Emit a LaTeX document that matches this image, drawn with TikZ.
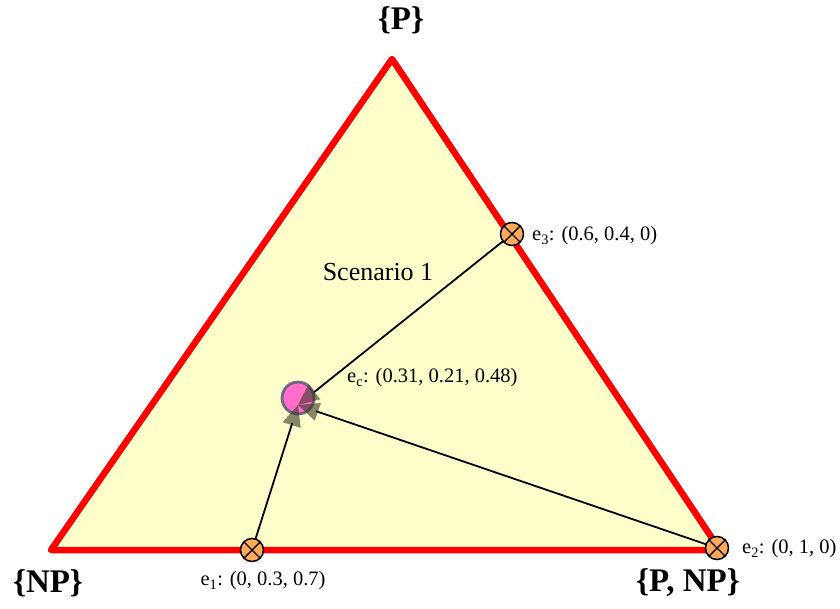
\documentclass[tikz,border=0pt]{standalone}
\usepackage{fontspec}
\setmainfont{Liberation Serif}
\usetikzlibrary{calc}
\definecolor{triFill}{RGB}{255,255,204}
\definecolor{triRed}{RGB}{255,0,0}
\definecolor{mkFill}{RGB}{255,170,90}
\definecolor{ecFill}{RGB}{255,110,200}
\definecolor{ecRim}{RGB}{90,90,120}
\definecolor{headCol}{RGB}{55,55,35}
\tikzset{
  vlabel/.style={font=\fontsize{33}{36}\selectfont\bfseries},
  elabel/.style={font=\fontsize{20.5}{23}\selectfont, anchor=west, inner sep=0pt},
  marker/.style={circle, draw=black, line width=1.5pt, fill=mkFill, minimum size=23pt, inner sep=0pt,
    path picture={\draw[black, line width=1.4pt] (path picture bounding box.north west) -- (path picture bounding box.south east)
      (path picture bounding box.north east) -- (path picture bounding box.south west);}},
  link/.style={black, line width=1.8pt},
  ahead/.style={fill=headCol, fill opacity=0.6, draw=none}
}
\begin{document}
\begin{tikzpicture}[x=1pt,y=-1pt]
\useasboundingbox (0,0) rectangle (840,608);
% triangle
\coordinate (A) at (392,59);
\coordinate (B) at (51,550);
\coordinate (C) at (720,550);
\filldraw[fill=triFill, draw=triRed, line width=6.5pt, line join=round] (A) -- (B) -- (C) -- cycle;
% vertex labels
\node[vlabel] (lP) at (401,20) {\{P\}};
\node[vlabel] (lNP) at (48,583) {\{NP\}};
\node[vlabel] (lPNP) at (688,583) {\{P, NP\}};
\node[font=\fontsize{26}{28}\selectfont] (scen) at (378,272) {Scenario 1};
% points
\coordinate (T) at (298,405);
\coordinate (e1c) at (252,550);
\coordinate (e2c) at (717,548);
\coordinate (e3c) at (512,234);
\coordinate (ecc) at (298,398);
% lines
\draw[link] (e3c) -- ($(T)!19pt!(e3c)$);
\draw[link] (e1c) -- ($(T)!19pt!(e1c)$);
\draw[link] (e2c) -- ($(T)!19pt!(e2c)$);
% central point
\node[circle, fill=ecFill, draw=ecRim, draw opacity=0.85, line width=2.8pt, minimum size=32pt, inner sep=0pt] (ec) at (ecc) {};
% arrowheads
\foreach \s in {e1c,e2c,e3c}{
  \coordinate (bb) at ($(T)!21pt!(\s)$);
  \fill[ahead] (T) -- ($(bb)!9.5pt!90:(T)$) -- ($(bb)!9.5pt!-90:(T)$) -- cycle;
}
% markers
\node[marker] (e1) at (e1c) {};
\node[marker] (e2) at (e2c) {};
\node[marker] (e3) at (e3c) {};
% labels
\node[elabel] (l3) at (532,236) {e\textsubscript{3}: (0.6, 0.4, 0)};
\node[elabel] (l2) at (742,549) {e\textsubscript{2}: (0, 1, 0)};
\node[elabel, anchor=center] (l1) at (263,581) {e\textsubscript{1}: (0, 0.3, 0.7)};
\node[elabel] (lc) at (347,378) {e\textsubscript{c}: (0.31, 0.21, 0.48)};
\end{tikzpicture}
\end{document}
